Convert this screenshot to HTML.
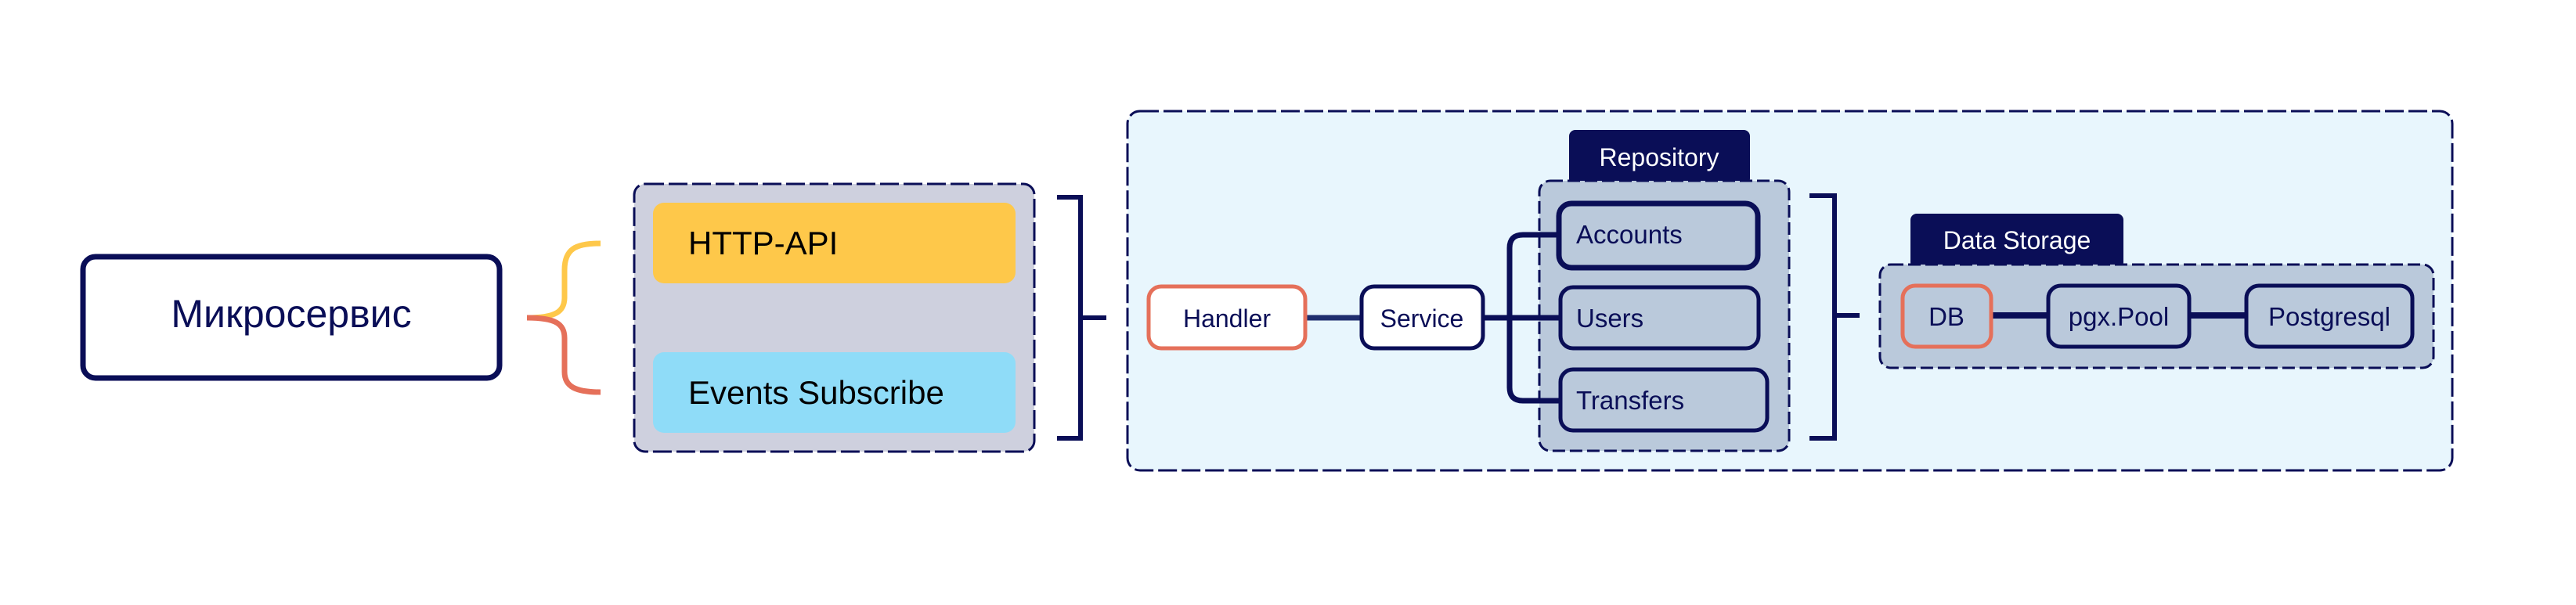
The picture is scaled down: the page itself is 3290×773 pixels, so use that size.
<!DOCTYPE html>
<html><head><meta charset="utf-8"><style>
html,body{margin:0;padding:0;background:#fff;}
svg{display:block;}
text{font-family:"Liberation Sans","DejaVu Sans",sans-serif;}
</style></head><body>
<svg width="3290" height="773" viewBox="0 0 3290 773" xmlns="http://www.w3.org/2000/svg">
<rect width="3290" height="773" fill="#fff"/>
<!-- Microservice -->
<rect x="106" y="328" width="532" height="155" rx="16" fill="#fff" stroke="#0a0e57" stroke-width="7"/>
<text x="372" y="418" font-size="50" fill="#0a0e57" text-anchor="middle">Микросервис</text>
<!-- brace -->
<path d="M767,311 C735,311 721,318 721,345 L721,380 C721,398 710,406 673,406" fill="none" stroke="#fec84a" stroke-width="7"/>
<path d="M673,406 C710,406 721,414 721,432 L721,475 C721,494 735,501 767,501" fill="none" stroke="#e5705a" stroke-width="7"/>
<!-- left gray box -->
<rect x="810" y="235" width="511" height="342" rx="14" fill="#ced0de" stroke="#0a0e57" stroke-width="3" stroke-dasharray="24 6"/>
<rect x="834" y="259" width="463" height="103" rx="14" fill="#fec84a"/>
<text x="879" y="325" font-size="42" fill="#000">HTTP-API</text>
<rect x="834" y="450" width="463" height="103" rx="14" fill="#8fdcf8"/>
<text x="879" y="516" font-size="42" fill="#000">Events Subscribe</text>
<!-- bracket 1 -->
<path d="M1350,252 L1380,252 L1380,560 L1350,560 M1380,406 L1413,406" fill="none" stroke="#0a0e57" stroke-width="6"/>
<!-- outer box -->
<rect x="1440" y="142" width="1692" height="459" rx="16" fill="#e8f6fd" stroke="#0a0e57" stroke-width="3" stroke-dasharray="24 6"/>
<!-- repository -->
<rect x="2004" y="166" width="231" height="70" rx="8" fill="#0a0e57"/>
<text x="2119" y="212" font-size="32" fill="#fff" text-anchor="middle">Repository</text>
<rect x="1966" y="231" width="319" height="345" rx="14" fill="#bac9db" stroke="#0a0e57" stroke-width="3" stroke-dasharray="16 6"/>
<!-- connectors -->
<line x1="1668" y1="406" x2="1738" y2="406" stroke="#1f2e6e" stroke-width="7"/>
<path d="M1895,406 L1992,406 M1992,300 L1945,300 Q1928,300 1928,317 L1928,495 Q1928,512 1945,512 L1992,512" fill="none" stroke="#0a0e57" stroke-width="7"/>
<rect x="1467" y="366" width="200" height="79" rx="16" fill="#fff" stroke="#e5705a" stroke-width="5"/>
<text x="1567" y="418" font-size="32" fill="#0a0e57" text-anchor="middle">Handler</text>
<rect x="1739" y="366" width="155" height="79" rx="16" fill="#fff" stroke="#0a0e57" stroke-width="5"/>
<text x="1816" y="418" font-size="32" fill="#0a0e57" text-anchor="middle">Service</text>
<rect x="1991" y="260" width="254" height="82" rx="16" fill="#bac9db" stroke="#0a0e57" stroke-width="7"/>
<text x="2013" y="311" font-size="33" fill="#0a0e57">Accounts</text>
<rect x="1993" y="367" width="253" height="78" rx="16" fill="#bac9db" stroke="#0a0e57" stroke-width="5"/>
<text x="2013" y="418" font-size="33" fill="#0a0e57">Users</text>
<rect x="1993" y="472" width="264" height="78" rx="16" fill="#bac9db" stroke="#0a0e57" stroke-width="5"/>
<text x="2013" y="523" font-size="33" fill="#0a0e57">Transfers</text>
<!-- bracket 2 -->
<path d="M2311,250 L2343,250 L2343,560 L2311,560 M2343,403 L2375,403" fill="none" stroke="#0a0e57" stroke-width="6"/>
<!-- data storage -->
<rect x="2440" y="273" width="272" height="70" rx="8" fill="#0a0e57"/>
<text x="2576" y="318" font-size="32" fill="#fff" text-anchor="middle">Data Storage</text>
<rect x="2401" y="338" width="707" height="132" rx="14" fill="#bac9db" stroke="#0a0e57" stroke-width="3" stroke-dasharray="16 6"/>
<path d="M2543,403 L2614,403 M2796,403 L2867,403" stroke="#0a0e57" stroke-width="8"/>
<rect x="2430" y="365" width="113" height="78" rx="16" fill="#bac9db" stroke="#e5705a" stroke-width="5"/>
<text x="2486" y="416" font-size="33" fill="#0a0e57" text-anchor="middle">DB</text>
<rect x="2616" y="365" width="180" height="78" rx="16" fill="#bac9db" stroke="#0a0e57" stroke-width="5"/>
<text x="2706" y="416" font-size="33" fill="#0a0e57" text-anchor="middle">pgx.Pool</text>
<rect x="2869" y="365" width="212" height="78" rx="16" fill="#bac9db" stroke="#0a0e57" stroke-width="5"/>
<text x="2975" y="416" font-size="33" fill="#0a0e57" text-anchor="middle">Postgresql</text>
</svg>
</body></html>
